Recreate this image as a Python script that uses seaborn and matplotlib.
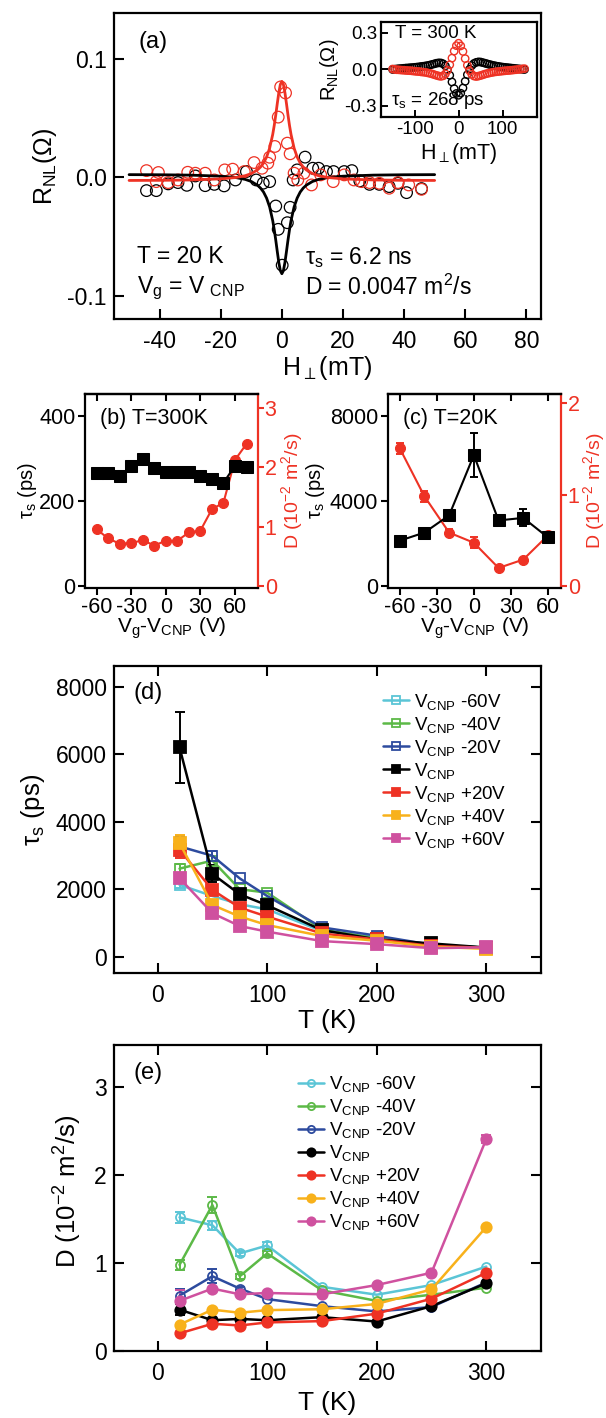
import matplotlib
matplotlib.use("Agg")
import matplotlib.pyplot as plt
import seaborn as sns

sns.set_theme(style="ticks")
plt.rcParams["font.family"] = ["Liberation Sans", "DejaVu Sans"]
plt.rcParams["mathtext.fontset"] = "custom"
plt.rcParams["mathtext.rm"] = "Liberation Sans"
plt.rcParams["mathtext.it"] = "Liberation Sans:italic"
plt.rcParams["mathtext.default"] = "regular"
plt.rcParams["axes.unicode_minus"] = False
plt.rcParams["axes.linewidth"] = 1.6
for k in ["axes.edgecolor", "text.color", "axes.labelcolor", "xtick.color", "ytick.color"]:
    plt.rcParams[k] = "black"

RED = "#EE3224"
CYAN = "#5BC5D6"
GREEN = "#5CB947"
BLUE = "#2D4B9E"
ORANGE = "#F8B11B"
PINK = "#CF519F"

# ---- (a) Hanle curves at 20 K ----
h_black = [-44.3, -41.1, -37.2, -34.0, -31.1, -28.3, -25.1, -22.1, -18.9, -15.2, -11.6, -8.4, -6.1,
           -4.0, -2.0, -1.2, 0.1, 1.8, 2.7, 3.7, 5.0, 7.6, 10.1, 12.0, 14.6, 16.9, 20.4, 22.9, 25.5,
           28.7, 31.9, 35.1, 38.0, 40.8, 45.7]
r_black = [-0.0113, -0.0113, -0.0056, -0.0045, -0.0068, 0.0011, -0.0071, -0.006, -0.0073, -0.0023,
           0.0048, -0.0023, -0.005, -0.0037, -0.0243, -0.044, -0.0743, -0.0384, -0.0254, -0.0023,
           0.0062, 0.017, 0.0076, 0.0076, 0.0048, 0.0048, 0.0048, 0.0056, -0.0031, -0.006, -0.006,
           -0.0079, -0.0051, -0.013, -0.0096]
h_red = [-44.3, -40.4, -41.1, -37.2, -34.0, -30.8, -28.3, -25.1, -22.1, -18.7, -16.1, -12.3, -9.1,
         -6.5, -4.6, -4.0, -2.3, -1.2, -0.4, 1.2, 1.8, 2.7, 4.0, 5.2, 7.2, 9.7, 12.7, 16.8, 20.4,
         23.6, 26.1, 28.7, 31.9, 35.1, 38.0, 41.5, 45.7]
r_red = [0.0056, 0.004, -0.0037, -0.0045, -0.0023, 0.0042, 0.0034, 0.0034, -0.0023, 0.0062, 0.0068,
         0.0048, 0.0124, 0.0076, 0.0119, 0.0169, 0.026, 0.0508, 0.0763, 0.0712, 0.0288, 0.0198,
         0.0034, -0.0023, 0.0034, -0.0065, 0.002, -0.0037, 0.002, -0.0023, -0.0037, -0.0045,
         -0.0051, -0.0093, -0.0045, -0.0065, -0.0102]
h_fit = [-50, -40, -30, -20, -15, -12, -10, -8, -7, -6, -5, -4, -3, -2.5, -2, -1.5, -1, -0.5, 0,
         0.5, 1, 1.5, 2, 2.5, 3, 4, 5, 6, 7, 8, 10, 12, 15, 20, 30, 40, 50]
fit_red = [-0.0027, -0.0026, -0.0023, -0.0014, -0.0002, 0.0013, 0.0031, 0.0062, 0.0086, 0.0120,
           0.0171, 0.0246, 0.0361, 0.0437, 0.0526, 0.0623, 0.0715, 0.0784, 0.0810, 0.0784, 0.0715,
           0.0623, 0.0526, 0.0437, 0.0361, 0.0246, 0.0171, 0.0120, 0.0086, 0.0062, 0.0031, 0.0013,
           -0.0002, -0.0014, -0.0023, -0.0026, -0.0027]
fit_black = [0.0022, 0.0021, 0.0018, 0.0009, -0.0003, -0.0018, -0.0036, -0.0067, -0.0091, -0.0125,
             -0.0176, -0.0251, -0.0366, -0.0442, -0.0531, -0.0628, -0.0720, -0.0789, -0.0815,
             -0.0789, -0.0720, -0.0628, -0.0531, -0.0442, -0.0366, -0.0251, -0.0176, -0.0125,
             -0.0091, -0.0067, -0.0036, -0.0018, -0.0003, 0.0009, 0.0018, 0.0021, 0.0022]

# ---- (a) inset, 300 K ----
h_in = [-150, -145, -140, -135, -130, -125, -120, -115, -110, -105, -100, -95, -90, -85, -80, -75,
        -70, -65, -60, -55, -50, -45, -40, -35, -30, -25, -20, -15, -10, -5, 0, 5, 10, 15, 20, 25,
        30, 35, 40, 45, 50, 55, 60, 65, 70, 75, 80, 85, 90, 95, 100, 105, 110, 115, 120, 125, 130,
        135, 140, 145, 150]
in_red = [0.002, -0.001, -0.004, -0.005, -0.007, -0.008, -0.010, -0.011, -0.012, -0.014, -0.016,
          -0.018, -0.019, -0.022, -0.024, -0.026, -0.030, -0.034, -0.039, -0.045, -0.051, -0.056,
          -0.059, -0.054, -0.038, -0.008, 0.037, 0.092, 0.150, 0.195, 0.215, 0.193, 0.147, 0.088,
          0.033, -0.012, -0.041, -0.056, -0.060, -0.057, -0.052, -0.046, -0.040, -0.035, -0.031,
          -0.027, -0.024, -0.021, -0.019, -0.017, -0.015, -0.013, -0.011, -0.010, -0.008, -0.006,
          -0.004, -0.002, 0.000, 0.003, 0.005]
in_black = [-0.002, 0.001, 0.003, 0.005, 0.006, 0.008, 0.010, 0.011, 0.013, 0.014, 0.016, 0.018,
            0.020, 0.023, 0.025, 0.028, 0.031, 0.035, 0.040, 0.045, 0.050, 0.053, 0.052, 0.045,
            0.028, -0.005, -0.050, -0.105, -0.160, -0.200, -0.215, -0.198, -0.155, -0.100, -0.045,
            0.000, 0.030, 0.048, 0.057, 0.061, 0.060, 0.055, 0.050, 0.045, 0.040, 0.035, 0.031,
            0.027, 0.024, 0.021, 0.018, 0.016, 0.014, 0.012, 0.010, 0.008, 0.006, 0.004, 0.002,
            0.000, -0.002]

# ---- (b) gate dependence at 300 K ----
vg_b = [-60, -50, -40, -30, -20, -10, 0, 10, 20, 30, 40, 50, 60, 70]
tau_b = [265, 265, 259, 282, 299, 277, 269, 269, 269, 258, 251, 243, 283, 281]
d_b = [0.955, 0.80, 0.71, 0.72, 0.77, 0.68, 0.76, 0.76, 0.90, 0.93, 1.29, 1.40, 2.12, 2.39]

# ---- (c) gate dependence at 20 K ----
vg_c = [-60, -40, -20, 0, 20, 40, 60]
tau_c = [2130, 2510, 3320, 6150, 3080, 3200, 2280]
tau_c_err = [0, 0, 250, 1050, 150, 400, 0]
d_c = [1.506, 0.98, 0.583, 0.472, 0.196, 0.288, 0.553]
d_c_err = [0.06, 0.06, 0.04, 0.06, 0, 0, 0]

# ---- (d), (e) temperature dependence ----
temps = [20, 50, 75, 100, 150, 200, 250, 300]
labels = ["V$_{CNP}$ -60V", "V$_{CNP}$ -40V", "V$_{CNP}$ -20V", "V$_{CNP}$",
          "V$_{CNP}$ +20V", "V$_{CNP}$ +40V", "V$_{CNP}$ +60V"]
colors = [CYAN, GREEN, BLUE, "black", RED, ORANGE, PINK]
filled = [False, False, False, True, True, True, True]

tau_m60 = [2130, 1800, 1555, 1405, 760, 575, 340, 270]
tau_m40 = [2610, 2850, 2000, 1900, 810, 545, 355, 268]
tau_m20 = [3270, 2990, 2320, 1800, 870, 625, 355, 268]
tau_0 = [6200, 2455, 1850, 1525, 790, 515, 395, 275]
tau_p20 = [3170, 1980, 1455, 1190, 690, 515, 320, 268]
tau_p40 = [3370, 1535, 1190, 940, 615, 475, 300, 235]
tau_p60 = [2330, 1290, 910, 745, 465, 375, 255, 280]
tau_err = [[100, 0, 0, 0, 0, 0, 0, 0], [150, 0, 0, 0, 0, 0, 0, 0], [300, 150, 0, 0, 0, 0, 0, 0],
           [1040, 250, 0, 0, 0, 0, 0, 0], [250, 0, 0, 0, 0, 0, 0, 0], [250, 0, 0, 0, 0, 0, 0, 0],
           [150, 0, 0, 0, 0, 0, 0, 0]]

d_m60 = [1.52, 1.43, 1.11, 1.20, 0.73, 0.64, 0.75, 0.96]
d_m40 = [0.98, 1.66, 0.85, 1.11, 0.69, 0.57, 0.64, 0.72]
d_m20 = [0.63, 0.85, 0.71, 0.59, 0.51, 0.45, 0.50, 0.78]
d_0 = [0.47, 0.35, 0.365, 0.35, 0.385, 0.335, 0.51, 0.77]
d_p20 = [0.20, 0.31, 0.29, 0.325, 0.34, 0.425, 0.595, 0.89]
d_p40 = [0.30, 0.47, 0.435, 0.465, 0.475, 0.535, 0.70, 1.41]
d_p60 = [0.57, 0.71, 0.645, 0.66, 0.645, 0.75, 0.89, 2.41]
d_err = [[0.06, 0.05, 0.03, 0.04, 0, 0, 0, 0], [0.06, 0.09, 0.03, 0.03, 0, 0, 0, 0],
         [0.07, 0.08, 0.02, 0, 0, 0, 0, 0], [0.06, 0, 0, 0, 0, 0, 0, 0], [0, 0, 0, 0, 0, 0, 0, 0],
         [0, 0, 0, 0, 0, 0, 0, 0], [0.12, 0, 0, 0, 0, 0, 0, 0.05]]

W, H = 606, 1418
fig = plt.figure(figsize=(W / 100, H / 100), dpi=100)


def box(l, t, r, b):
    return fig.add_axes([l / W, 1 - b / H, (r - l) / W, (b - t) / H])


def errbars(ax, x, y, err, color, cap=3.5):
    idx = [i for i, e in enumerate(err) if e > 0]
    if idx:
        ax.errorbar([x[i] for i in idx], [y[i] for i in idx], yerr=[err[i] for i in idx],
                    fmt="none", ecolor=color, elinewidth=1.4, capsize=cap, capthick=1.4, zorder=1.5)


def place_labels(ax, xl, yl, xy, yx, ypos=0.5, xs=15, ys=15):
    ax.set_xlabel(xl, va="center", fontsize=xs)
    ax.set_ylabel(yl, va="center", fontsize=ys)
    ax.xaxis.set_label_coords(0.5, xy)
    ax.yaxis.set_label_coords(yx, ypos)


# ---------- panel (a) ----------
ax = box(113.8, 12.7, 540.7, 319.3)
sns.scatterplot(x=h_black, y=r_black, ax=ax, marker="o", s=70, facecolor="none",
                edgecolor="black", linewidth=0.9)
sns.scatterplot(x=h_red, y=r_red, ax=ax, marker="o", s=70, facecolor="none",
                edgecolor=RED, linewidth=0.9)
sns.lineplot(x=h_fit, y=fit_black, ax=ax, color="black", lw=2)
sns.lineplot(x=h_fit, y=fit_red, ax=ax, color=RED, lw=2)
ax.set_xlim(-55, 84.7)
ax.set_ylim(-0.12, 0.139)
ax.set_xticks([-40, -20, 0, 20, 40, 60, 80])
ax.set_yticks([-0.1, 0.0, 0.1])
ax.tick_params(direction="in", length=7, width=1.5, labelsize=16.5)
ax.tick_params(axis="x", pad=8)
ax.tick_params(axis="y", pad=5)
place_labels(ax, "H$_{\\perp}$(mT)", "R$_{NL}$(Ω)", -0.16, -0.161, xs=18, ys=18)
ax.text(0.059, 0.905, "(a)", transform=ax.transAxes, fontsize=17, va="center")
ax.text(0.054, 0.204, "T = 20 K", transform=ax.transAxes, fontsize=16.5, va="center")
ax.text(0.054, 0.1, "V$_g$ = V $_{CNP}$", transform=ax.transAxes, fontsize=16.5, va="center")
ax.text(0.448, 0.2, "τ$_s$ = 6.2 ns", transform=ax.transAxes, fontsize=16.5, va="center")
ax.text(0.448, 0.106, "D = 0.0047 m$^2$/s", transform=ax.transAxes, fontsize=16.5, va="center")

# inset
axi = box(381.2, 21.7, 536.8, 117.3)
sns.scatterplot(x=h_in, y=in_black, ax=axi, marker="o", s=28, facecolor="none",
                edgecolor="black", linewidth=1.0)
sns.scatterplot(x=h_in, y=in_red, ax=axi, marker="o", s=28, facecolor="none",
                edgecolor=RED, linewidth=1.0)
axi.set_xlim(-176, 178)
axi.set_ylim(-0.397, 0.393)
axi.set_xticks([-100, 0, 100])
axi.set_yticks([-0.3, 0.0, 0.3])
axi.tick_params(direction="in", length=5, width=1.4, labelsize=13.5, pad=3)
place_labels(axi, "H$_{\\perp}$(mT)", "R$_{NL}$(Ω)", -0.38, -0.33, xs=15.5, ys=14.5)
axi.text(0.089, 0.88, "T = 300 K", transform=axi.transAxes, fontsize=13.5, va="center")
axi.text(0.063, 0.18, "τ$_s$ = 268 ps", transform=axi.transAxes, fontsize=13.5, va="center")


# ---------- panels (b), (c) ----------
def gate_panel(l, vg, tau, d, tau_err, d_err, xlim, ylim, ylim2, yticks, yticks2, tag, ylx, rlx):
    a1 = box(l, 394, l + 172.7, 587.7)
    a2 = a1.twinx()
    if d_err is not None:
        errbars(a2, vg, d, d_err, RED, cap=3)
    sns.lineplot(x=vg, y=d, ax=a2, color=RED, lw=1.5, marker="o", markersize=7.2,
                 markeredgecolor=RED, markerfacecolor=RED)
    if tau_err is not None:
        errbars(a1, vg, tau, tau_err, "black", cap=3)
    sns.lineplot(x=vg, y=tau, ax=a1, color="black", lw=1.5, marker="s", markersize=8.2,
                 markeredgecolor="black", markerfacecolor="black")
    a1.set_zorder(a2.get_zorder() + 1)
    a1.patch.set_visible(False)
    a1.set_xlim(*xlim)
    a1.set_ylim(*ylim)
    a2.set_ylim(*ylim2)
    a1.set_xticks([-60, -30, 0, 30, 60])
    a1.set_yticks(yticks)
    a2.set_yticks(yticks2)
    a1.spines["right"].set_visible(False)
    for s in ["left", "top", "bottom"]:
        a2.spines[s].set_visible(False)
    a2.spines["right"].set_color(RED)
    a1.tick_params(direction="out", length=5, width=1.5, labelsize=15.5, pad=2)
    a2.tick_params(direction="out", length=4, width=1.5, labelsize=15.5, pad=1,
                   colors=RED)
    top = a1.secondary_xaxis("top")
    top.set_xticks([-60, -30, 0, 30, 60])
    top.tick_params(direction="in", length=5, width=1.5, labeltop=False)
    place_labels(a1, "V$_g$-V$_{CNP}$ (V)", "τ$_s$ (ps)", -0.21, ylx, xs=15, ys=14.5)
    a2.set_ylabel("D (10$^{-2}$ m$^2$/s)", color=RED, fontsize=14, va="center", rotation=90)
    a2.yaxis.set_label_coords(rlx, 0.5)
    a1.text(0.085, 0.875, tag, transform=a1.transAxes, fontsize=15.5, va="center")


gate_panel(85, vg_b, tau_b, d_b, None, None, (-70, 79.7), (-4, 452), (-0.03, 3.23),
           [0, 200, 400], [0, 1, 2, 3], "(b) T=300K", -0.335, 1.2)
gate_panel(388, vg_c, tau_c, d_c, tau_c_err, d_c_err, (-69.5, 70.3), (-80, 9020), (-0.02, 2.1),
           [0, 4000, 8000], [0, 1, 2], "(c) T=20K", -0.42, 1.195)


# ---------- panels (d), (e) ----------
def temp_panel(t, b, series, errs, marker, ms_fill, ms_open, ylim, yticks, ylab, tag, ylx, yly,
               xly, leg_xy):
    a = box(113.8, t, 540.7, b)
    for vals, err, lab, col, fl in zip(series, errs, labels, colors, filled):
        errbars(a, temps, vals, err, col)
        sns.lineplot(x=temps, y=vals, ax=a, color=col, lw=1.8, marker=marker,
                     markersize=ms_fill if fl else ms_open,
                     markerfacecolor=col if fl else "none", markeredgecolor=col,
                     markeredgewidth=1.3, label=lab)
    a.set_xlim(-40, 349.7)
    a.set_ylim(*ylim)
    a.set_xticks([0, 100, 200, 300])
    a.set_yticks(yticks)
    a.tick_params(direction="in", length=7, width=1.5, labelsize=16.5, top=True, right=True)
    a.tick_params(axis="x", pad=8)
    a.tick_params(axis="y", pad=5)
    place_labels(a, "T (K)", ylab, xly, ylx, yly, xs=19, ys=18.5)
    a.text(0.045, 0.91, tag, transform=a.transAxes, fontsize=17, va="center")
    a.legend(loc="upper left", bbox_to_anchor=leg_xy, frameon=False, fontsize=13.5,
             handlelength=1.4, handletextpad=0.25, labelspacing=0.16, markerscale=0.8,
             borderpad=0, borderaxespad=0)


temp_panel(665.7, 973, [tau_m60, tau_m40, tau_m20, tau_0, tau_p20, tau_p40, tau_p60], tau_err,
           "s", 8, 7, (-480, 8620), [0, 2000, 4000, 6000, 8000], "τ$_s$ (ps)", "(d)",
           -0.19, 0.53, -0.156, (0.631, 0.915))
temp_panel(1045, 1351, [d_m60, d_m40, d_m20, d_0, d_p20, d_p40, d_p60], d_err,
           "o", 7.5, 6.5, (0, 3.48), [0, 1, 2, 3], "D (10$^{-2}$ m$^2$/s)", "(e)",
           -0.108, 0.52, -0.17, (0.431, 0.905))

fig.savefig("out.png", dpi=100)
